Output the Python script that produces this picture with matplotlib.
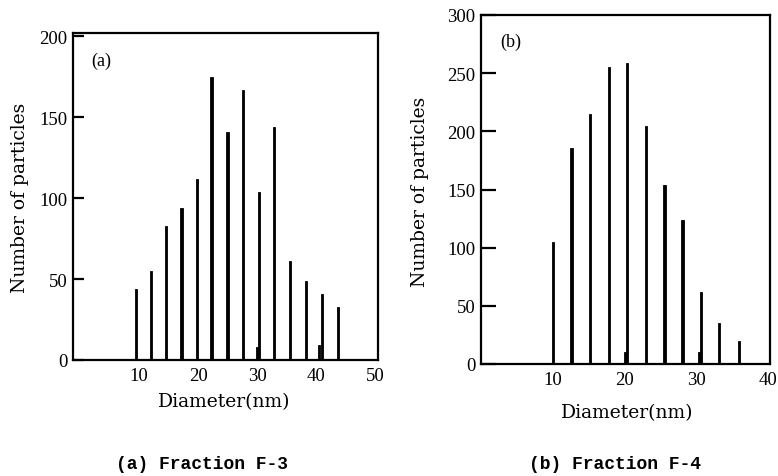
import matplotlib
matplotlib.use("Agg")
import matplotlib.pyplot as plt

# ---- data ----
# (a) Fraction F-3
a_diam = [9.5, 12.0, 14.6, 17.2, 19.8, 22.25, 25.0, 27.6, 30.3, 32.9, 35.6, 38.3, 41.05, 43.7]
a_count = [44, 55, 83, 94, 112, 175, 141, 167, 104, 144, 61, 49, 41, 33]
a_minor_diam = [30.1, 40.5]
a_minor_count = [8, 9]
a_xticks = [10, 20, 30, 40, 50]
a_yticks = [0, 50, 100, 150, 200]

# (b) Fraction F-4
b_diam = [10.0, 12.6, 15.2, 17.8, 20.4, 23.0, 25.6, 28.1, 30.7, 33.2, 36.0]
b_count = [105, 186, 215, 255, 259, 205, 154, 124, 62, 35, 20]
b_minor_diam = [20.15, 30.4]
b_minor_count = [10, 10]
b_xticks = [10, 20, 30, 40]
b_yticks = [0, 50, 100, 150, 200, 250, 300]

W, H = 778, 477
fig = plt.figure(figsize=(W / 100, H / 100), dpi=100)

def fx(px):
    return px / W

def fy(py):
    return 1 - py / H

tick_font = dict(family="Liberation Serif", size=13.5)
label_font = dict(family="DejaVu Serif", size=13.5)

def style(ax, ylen):
    for s in ax.spines.values():
        s.set_linewidth(1.6)
        s.set_color("black")
    ax.tick_params(axis="x", length=0, pad=5)
    ax.tick_params(axis="y", direction="in", length=ylen, width=1.6, pad=4)
    for lab in ax.get_xticklabels() + ax.get_yticklabels():
        lab.set_fontfamily(tick_font["family"])
        lab.set_fontsize(tick_font["size"])

bar_kw = dict(color="black", edgecolor="black", linewidth=0.6)

# ---- panel (a) ----
axa = fig.add_axes([fx(73), fy(361), fx(378) - fx(73), fy(34) - fy(361)])
axa.bar(a_diam, a_count, width=0.4, **bar_kw)
axa.bar(a_minor_diam, a_minor_count, width=0.4, **bar_kw)
axa.set_xlim(-1.2, 50.5)
axa.set_ylim(0, 202)
axa.set_xticks(a_xticks)
axa.set_yticks(a_yticks)
style(axa, 8)
axa.text(0.06, 0.915, "(a)", transform=axa.transAxes, fontfamily="Liberation Serif",
         fontsize=13, va="center", ha="left")

# ---- panel (b) ----
axb = fig.add_axes([fx(481), fy(365), fx(770) - fx(481), fy(16) - fy(365)])
axb.bar(b_diam, b_count, width=0.32, **bar_kw)
axb.bar(b_minor_diam, b_minor_count, width=0.4, **bar_kw)
axb.set_xlim(0, 40.3)
axb.set_ylim(0, 300)
axb.set_xticks(b_xticks)
axb.set_yticks(b_yticks)
style(axb, 11)
axb.text(0.065, 0.925, "(b)", transform=axb.transAxes, fontfamily="Liberation Serif",
         fontsize=13, va="center", ha="left")

# ---- axis titles ----
fig.text(fx(20), fy(198), "Number of particles", rotation=90, ha="center", va="center", **label_font)
fig.text(fx(420), fy(192), "Number of particles", rotation=90, ha="center", va="center", **label_font)
fig.text(fx(224), fy(402), "Diameter(nm)", ha="center", va="center", **label_font)
fig.text(fx(627), fy(413), "Diameter(nm)", ha="center", va="center", **label_font)

# ---- captions ----
cap_font = dict(family="Liberation Mono", size=13, weight="bold")
fig.text(fx(202), fy(465), "(a) Fraction F-3", ha="center", va="center", **cap_font)
fig.text(fx(615), fy(465), "(b) Fraction F-4", ha="center", va="center", **cap_font)

fig.savefig("out.png", dpi=100, facecolor="white")
